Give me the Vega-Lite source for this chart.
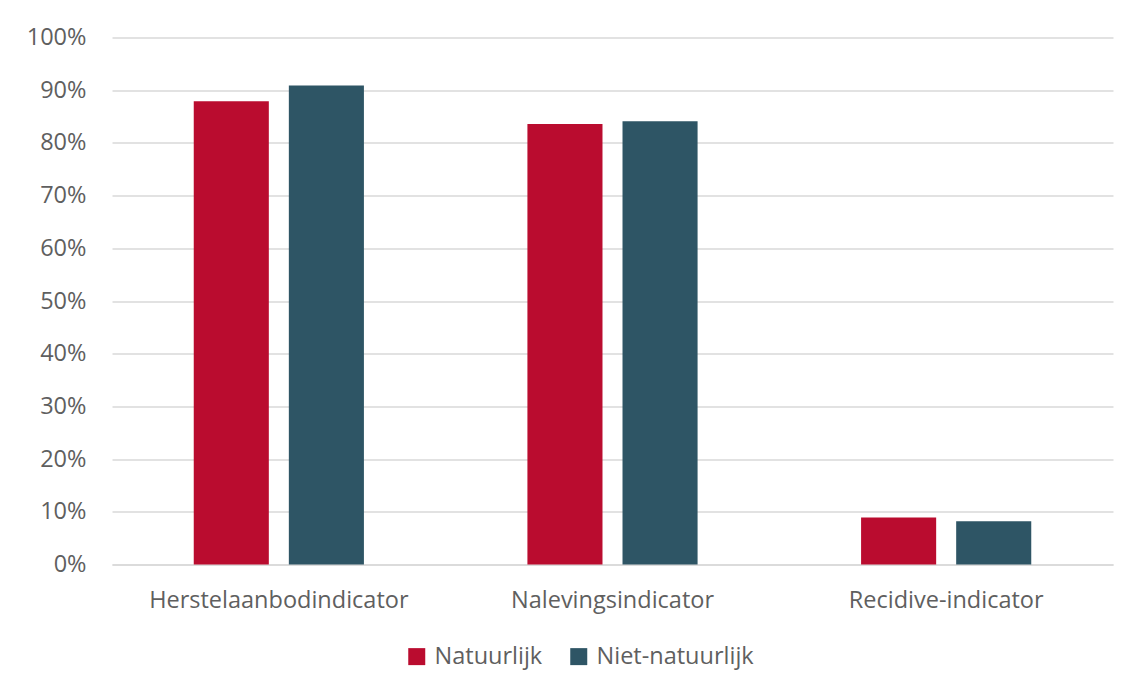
{
  "$schema": "https://vega.github.io/schema/vega-lite/v6.json",
  "width": 1001,
  "height": 527,
  "autosize": {"type": "none"},
  "padding": {"left": 112, "top": 37.5, "right": 26, "bottom": 123.5},
  "background": "white",
  "config": {
    "view": {"stroke": null},
    "font": "Open Sans",
    "axis": {"labelFont": "Open Sans", "labelColor": "#5f5f5f", "labelFontSize": 23.5, "labelFontWeight": 400, "labelLimit": 0},
    "legend": {"labelFont": "Open Sans", "labelColor": "#5f5f5f", "labelFontSize": 23.5, "labelFontWeight": 400, "labelLimit": 0}
  },
  "data": {
    "values": [
      {"indicator": "Herstelaanbodindicator", "groep": "Natuurlijk", "waarde": 0.879},
      {"indicator": "Herstelaanbodindicator", "groep": "Niet-natuurlijk", "waarde": 0.909},
      {"indicator": "Nalevingsindicator", "groep": "Natuurlijk", "waarde": 0.836},
      {"indicator": "Nalevingsindicator", "groep": "Niet-natuurlijk", "waarde": 0.841},
      {"indicator": "Recidive-indicator", "groep": "Natuurlijk", "waarde": 0.089},
      {"indicator": "Recidive-indicator", "groep": "Niet-natuurlijk", "waarde": 0.082}
    ]
  },
  "mark": {"type": "bar"},
  "encoding": {
    "x": {
      "field": "indicator", "type": "nominal", "sort": null,
      "scale": {"paddingInner": 0.49, "paddingOuter": 0.245},
      "axis": {"title": null, "labelAngle": 0, "domain": true, "domainColor": "#d9d9d9", "domainWidth": 1.5, "ticks": false, "labelPadding": 24}
    },
    "xOffset": {
      "field": "groep", "type": "nominal", "sort": null,
      "scale": {"paddingInner": 0.2105, "paddingOuter": 0}
    },
    "y": {
      "field": "waarde", "type": "quantitative",
      "scale": {"domain": [0, 1], "nice": false},
      "axis": {"title": null, "format": ".0%", "values": [0, 0.1, 0.2, 0.3, 0.4, 0.5, 0.6, 0.7, 0.8, 0.9, 1], "domain": false, "ticks": false, "labelPadding": 26, "gridColor": "#d9d9d9", "gridWidth": 1.5}
    },
    "color": {
      "field": "groep", "type": "nominal", "sort": null,
      "scale": {"domain": ["Natuurlijk", "Niet-natuurlijk"], "range": ["#BA0C2F", "#2E5565"]},
      "legend": {"title": null, "orient": "none", "direction": "horizontal", "legendX": 293, "legendY": 607, "symbolType": "square", "symbolSize": 289, "symbolStrokeWidth": 0, "symbolOpacity": 1, "columnPadding": 24, "labelOffset": 6}
    }
  }
}
